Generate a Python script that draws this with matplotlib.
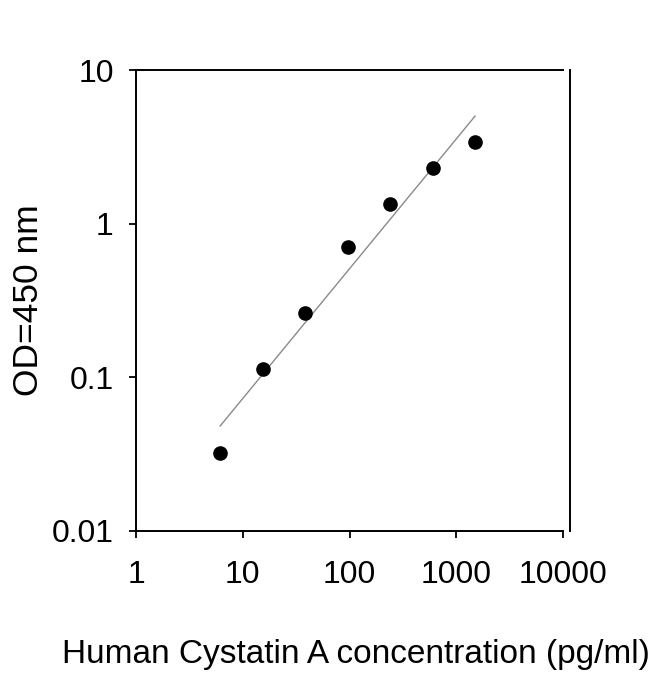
import matplotlib
matplotlib.use("Agg")
import matplotlib.pyplot as plt
import numpy as np

plt.rcParams['font.family'] = ['Liberation Sans', 'DejaVu Sans']

# standard curve: concentration (pg/ml) vs OD at 450 nm
conc = [6.144, 15.36, 38.4, 96, 240, 600, 1500]
od = [0.032, 0.113, 0.261, 0.70, 1.34, 2.31, 3.40]

x_ticks = [1, 10, 100, 1000, 10000]
x_ticklabels = ["1", "10", "100", "1000", "10000"]
y_ticks = [0.01, 0.1, 1, 10]
y_ticklabels = ["0.01", "0.1", "1", "10"]

# log-log least squares fit
coef = np.polyfit(np.log10(conc), np.log10(od), 1)
fit_x = np.array([conc[0], conc[-1]])
fit_y = 10 ** np.polyval(coef, np.log10(fit_x))

fig = plt.figure(figsize=(6.5, 6.74), dpi=100)
ax = fig.add_axes([136 / 650, 1 - 531 / 674, 427 / 650, 461 / 674])

ax.plot(fit_x, fit_y, color="#8a8a8a", lw=1.0)
ax.plot(conc, od, "o", color="black", ms=9.5)

ax.set_xscale("log")
ax.set_yscale("log")
ax.set_xlim(1, 10000)
ax.set_ylim(0.01, 10)
ax.set_xticks(x_ticks)
ax.set_xticklabels(x_ticklabels)
ax.set_yticks(y_ticks)
ax.set_yticklabels(y_ticklabels)
ax.minorticks_off()
ax.tick_params(direction="out", length=5, width=1.3, labelsize=23)
ax.tick_params(axis="y", pad=11)
ax.tick_params(axis="x", pad=16)

for s in ax.spines.values():
    s.set_linewidth(1.4)
ax.spines["right"].set_position(("outward", 5))

ax.set_xlabel("Human Cystatin A concentration (pg/ml)", fontsize=24)
ax.xaxis.set_label_coords(0.516, -0.235)
ax.set_ylabel("OD=450 nm", fontsize=25.5, labelpad=5)

fig.savefig("out.png", dpi=100)
